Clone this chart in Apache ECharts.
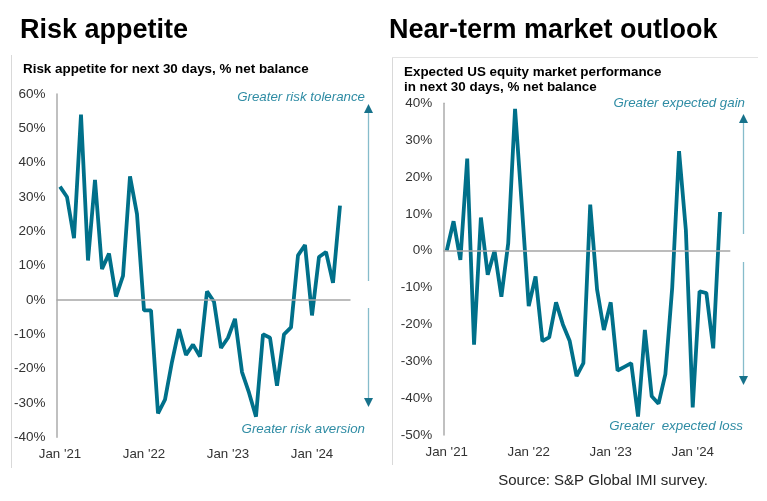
<!DOCTYPE html>
<html>
<head>
<meta charset="utf-8">
<script src="https://cdn.jsdelivr.net/npm/echarts@6/dist/echarts.min.js"></script>
<style>
html,body{margin:0;padding:0;background:#fff;}
#c{width:767px;height:501px;}
</style>
</head>
<body>
<div id="c"></div>
<script>
// ---- data ----
const months = ["Jan '21","Feb '21","Mar '21","Apr '21","May '21","Jun '21","Jul '21","Aug '21","Sep '21","Oct '21","Nov '21","Dec '21",
"Jan '22","Feb '22","Mar '22","Apr '22","May '22","Jun '22","Jul '22","Aug '22","Sep '22","Oct '22","Nov '22","Dec '22",
"Jan '23","Feb '23","Mar '23","Apr '23","May '23","Jun '23","Jul '23","Aug '23","Sep '23","Oct '23","Nov '23","Dec '23",
"Jan '24","Feb '24","Mar '24","Apr '24","May '24"];
const riskAppetite = [33, 30, 18, 54, 11.5, 35, 9, 13.5, 1, 7, 36, 25,
  -3, -3, -33, -29, -18, -8.5, -16, -13, -16.5, 2.5, -0.5, -14,
  -11, -5.5, -21, -27, -34, -10, -11, -25, -10, -8, 13, 16,
  -4.5, 12.5, 14, 5, 27.5];
const equityOutlook = [0, 8, -2.5, 25, -25.5, 9, -6.5, 0, -12.5, 2, 38.5, 12,
  -15, -7, -24.5, -23.5, -14, -20, -24.5, -34, -30.5, 12.5, -10.5, -21.5,
  -14, -32.5, -31.5, -30.5, -45, -21.5, -39.5, -41.5, -33.5, -10, 27, 5.5,
  -42.5, -11, -11.5, -26.5, 10.5];
const leftTicks = {min: -40, max: 60, interval: 10};
const rightTicks = {min: -50, max: 40, interval: 10};

// ---- styles ----
const FONT = 'Liberation Sans, Arial, sans-serif';
const LINE = '#00708a';
const ANNO = '#2f8ca4';
const ARROW = '#86bccb';
const HEAD = '#17728b';
const cats = months.concat(['']);

function xAx(gi){
  return {
    type:'category', gridIndex:gi, data:cats, boundaryGap:true,
    axisLine:{show:false}, axisTick:{show:false},
    axisLabel:{interval:11, margin:11, fontFamily:FONT, fontSize:13.3, color:'#333'}
  };
}
function yAx(gi, t){
  return {
    type:'value', gridIndex:gi, min:t.min, max:t.max, interval:t.interval,
    axisLine:{show:true, lineStyle:{color:'#ababab', width:1.5}},
    axisTick:{show:false}, splitLine:{show:false},
    axisLabel:{margin:11, fontFamily:FONT, fontSize:13.5, color:'#333', formatter:'{value}%'}
  };
}
function ser(gi, d){
  return {
    type:'line', xAxisIndex:gi, yAxisIndex:gi, data:d, symbol:'none',
    lineStyle:{color:LINE, width:3.8}, silent:true, animation:false,
    markLine:{silent:true, symbol:'none', label:{show:false},
      lineStyle:{color:'#a6a6a6', width:1.5, type:'solid'}, data:[{yAxis:0}]}
  };
}
function txt(x, y, s, align){
  return {type:'text', x:x, y:y, style:{text:s, align:align, verticalAlign:'middle',
    font:'italic 13.3px ' + FONT, fill:ANNO}};
}
function vline(x, y1, y2, color, w){
  return {type:'line', shape:{x1:x, y1:y1, x2:x, y2:y2}, style:{stroke:color, lineWidth:w}};
}
function head(x, tip, base){
  return {type:'polygon', shape:{points:[[x, tip],[x-4.5, base],[x+4.5, base]]}, style:{fill:HEAD}};
}

const chart = echarts.init(document.getElementById('c'), null, {renderer:'canvas'});
chart.setOption({
  animation:false,
  backgroundColor:'#fff',
  grid:[
    {left:56.5, top:94, width:294, height:343.3},
    {left:443.3, top:103.3, width:287, height:331.7}
  ],
  xAxis:[xAx(0), xAx(1)],
  yAxis:[yAx(0, leftTicks), yAx(1, rightTicks)],
  series:[ser(0, riskAppetite), ser(1, equityOutlook)],
  graphic:[
    vline(11.5, 55, 468, '#d9d9d9', 1),
    vline(392.5, 57, 465, '#d9d9d9', 1),
    {type:'line', shape:{x1:392, y1:57.5, x2:758, y2:57.5}, style:{stroke:'#e3e3e3', lineWidth:1}},
    {type:'text', x:20, y:30.5, style:{text:'Risk appetite', font:'bold 27px ' + FONT, fill:'#000', verticalAlign:'middle'}},
    {type:'text', x:389, y:30.5, style:{text:'Near-term market outlook', font:'bold 27px ' + FONT, fill:'#000', verticalAlign:'middle'}},
    {type:'text', x:23, y:69, style:{text:'Risk appetite for next 30 days, % net balance', font:'bold 13.4px ' + FONT, fill:'#000', verticalAlign:'middle'}},
    {type:'text', x:404, y:72, style:{text:'Expected US equity market performance', font:'bold 13.4px ' + FONT, fill:'#000', verticalAlign:'middle'}},
    {type:'text', x:404, y:87, style:{text:'in next 30 days, % net balance', font:'bold 13.4px ' + FONT, fill:'#000', verticalAlign:'middle'}},
    txt(365, 97, 'Greater risk tolerance', 'right'),
    txt(365, 429, 'Greater risk aversion', 'right'),
    txt(745, 103, 'Greater expected gain', 'right'),
    txt(743, 426, 'Greater  expected loss', 'right'),
    vline(368.5, 112, 281, ARROW, 1.3),
    head(368.5, 104, 113),
    vline(368.5, 308, 399, ARROW, 1.3),
    head(368.5, 407, 398),
    vline(743.5, 122, 234, ARROW, 1.3),
    head(743.5, 114, 123),
    vline(743.5, 262, 377, ARROW, 1.3),
    head(743.5, 385, 376),
    {type:'text', x:708, y:481, style:{text:'Source: S&P Global IMI survey.', font:'15px ' + FONT, fill:'#262626', align:'right', verticalAlign:'middle'}}
  ]
});
</script>
</body>
</html>
